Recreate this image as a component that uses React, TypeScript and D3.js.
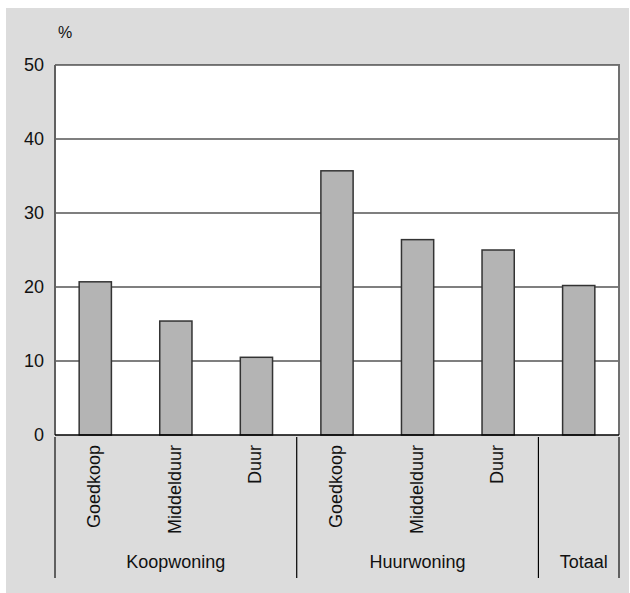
import React from "react";
import * as d3 from "d3";

const categories = ["Goedkoop", "Middelduur", "Duur", "Goedkoop ", "Middelduur ", "Duur ", "Totaal"];
const barLabels = ["Goedkoop", "Middelduur", "Duur", "Goedkoop", "Middelduur", "Duur", ""];
const values = [20.7, 15.4, 10.5, 35.7, 26.4, 25.0, 20.2];
const groups = [
  { name: "Koopwoning", from: 0, to: 3 },
  { name: "Huurwoning", from: 3, to: 6 },
  { name: "Totaal", from: 6, to: 7 },
];
const yTicks = [0, 10, 20, 30, 40, 50];
const unitLabel = "%";

const W = 630;
const H = 593;
const left = 55;
const right = 619;
const top = 65;
const bottom = 435;
const font = "Liberation Sans, Arial, Helvetica, sans-serif";

export default function App() {
  const x = d3.scaleBand<string>().domain(categories).range([left, right]).paddingInner(0.6).paddingOuter(0.3);
  const y = d3.scaleLinear().domain([0, 50]).range([bottom, top]);
  const step = x.step();
  const edge = (i: number) => left + i * step;

  return (
    <svg width={W} height={H} style={{ position: "absolute", left: 0, top: 0 }} fontFamily={font}>
      <rect x={6} y={8} width={623} height={585} fill="#dcdcdc" />
      <rect x={left} y={top} width={right - left} height={bottom - top} fill="#ffffff" />
      {yTicks.map((t) => (
        <g key={t}>
          {t > 0 && <line x1={left} x2={right} y1={y(t)} y2={y(t)} stroke="#000" strokeWidth={1.2} />}
          <text x={44} y={y(t)} dy="0.35em" textAnchor="end" fontSize={18} fill="#111">
            {t}
          </text>
        </g>
      ))}
      <text x={58} y={38} fontSize={16} fill="#111">
        {unitLabel}
      </text>
      {values.map((v, i) => (
        <rect
          key={i}
          x={x(categories[i])}
          y={y(v)}
          width={x.bandwidth()}
          height={y(0) - y(v)}
          fill="#b4b4b4"
          stroke="#333"
          strokeWidth={1.5}
        />
      ))}
      <line x1={right} x2={right} y1={top - 1} y2={bottom} stroke="#707070" strokeWidth={2} />
      <line x1={left} x2={left} y1={top} y2={bottom} stroke="#606060" strokeWidth={2} />
      <line x1={left} x2={right} y1={bottom} y2={bottom} stroke="#000" strokeWidth={1.5} />
      {barLabels.map((l, i) =>
        l ? (
          <text
            key={i}
            transform={`translate(${(x(categories[i]) as number) + x.bandwidth() / 2 + 5},445) rotate(-90)`}
            textAnchor="end"
            fontSize={18}
            fill="#111"
          >
            {l}
          </text>
        ) : null
      )}
      {[0, 3, 6, 7].map((k) => (
        <line
          key={k}
          x1={edge(k)}
          x2={edge(k)}
          y1={437}
          y2={578}
          stroke={k === 0 || k === 7 ? "#606060" : "#000"}
          strokeWidth={k === 0 || k === 7 ? 2 : 1.2}
        />
      ))}
      {groups.map((g) => (
        <text
          key={g.name}
          x={(edge(g.from) + edge(g.to)) / 2 + (g.to - g.from === 1 ? 5 : 0)}
          y={568}
          textAnchor="middle"
          fontSize={18}
          fill="#111"
        >
          {g.name}
        </text>
      ))}
    </svg>
  );
}
